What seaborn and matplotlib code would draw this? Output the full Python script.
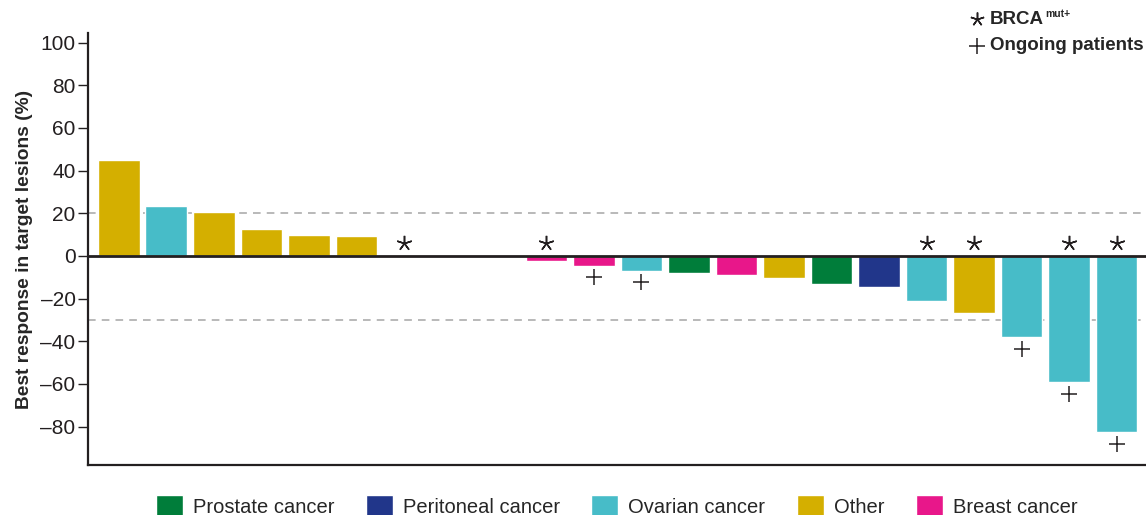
import numpy as np
import pandas as pd
import matplotlib.pyplot as plt
from matplotlib.patches import Patch
import seaborn as sns

# best response per patient, sorted as in the waterfall
response = [45, 23.5, 20.7, 12.7, 9.9, 9.4, 0, 0, 0, -2.2, -4.5, -6.9, -7.8, -8.8,
            -10.2, -13, -14.4, -21, -26.6, -37.9, -59, -82.5]
cancer = ["Other", "Ovarian cancer", "Other", "Other", "Other", "Other",
          "Other", "Other", "Other", "Breast cancer", "Breast cancer", "Ovarian cancer",
          "Prostate cancer", "Breast cancer", "Other", "Prostate cancer", "Peritoneal cancer",
          "Ovarian cancer", "Other", "Ovarian cancer", "Ovarian cancer", "Ovarian cancer"]
brca_idx = [6, 9, 17, 18, 20, 21]
ongoing_idx = [10, 11, 19, 20, 21]

legend_order = ["Prostate cancer", "Peritoneal cancer", "Ovarian cancer", "Other", "Breast cancer"]
palette = {"Prostate cancer": "#007D3A", "Peritoneal cancer": "#21368A",
           "Ovarian cancer": "#47BCC8", "Other": "#D4AF00", "Breast cancer": "#E8178A"}

df = pd.DataFrame({"patient": np.arange(len(response)), "response": response, "cancer": cancer})

sns.set_style("white")
plt.rcParams['font.family'] = ['Liberation Sans', 'DejaVu Sans']

fig = plt.figure(figsize=(11.46, 5.15), dpi=100)
ax = fig.add_axes([0.0768, 0.097, 0.9232, 0.839])

sns.barplot(data=df, x="patient", y="response", hue="cancer", palette=palette,
            dodge=False, width=0.88, saturation=1, legend=False, ax=ax)

ax.axhline(0, color="#231f20", lw=2, zorder=3)
for ref in (20, -30):
    ax.axhline(ref, color="#a6a6a6", lw=1.1, ls=(0, (5, 4)), zorder=0)

# markers
ax.plot(brca_idx, [6] * len(brca_idx), ls="none", marker=(5, 2, 0), ms=11,
        mew=1.1, color="#231f20", zorder=4)
ong_y = [df.response[i] - 5.5 for i in ongoing_idx]
ax.plot(ongoing_idx, ong_y, ls="none", marker="+", ms=11, mew=1.1,
        color="#231f20", zorder=4)

ax.set_xlim(-0.65, 21.62)
ax.set_ylim(-98, 104.5)
ax.set_yticks(np.arange(-80, 101, 20))
ax.set_yticklabels([f"{v}".replace("-", "\u2013") for v in range(-80, 101, 20)])
ax.set_xticks([])
ax.set_xlabel("")
ax.set_ylabel("Best response in target lesions (%)", fontsize=13.8, fontweight="bold", labelpad=5)
ax.tick_params(axis="y", left=True, length=7, width=1, color="#231f20",
               labelsize=15, labelcolor="#231f20", pad=2)
for s in ("top", "right"):
    ax.spines[s].set_visible(False)
for s in ("left", "bottom"):
    ax.spines[s].set_color("#231f20")
    ax.spines[s].set_linewidth(1.6)

# key in the top right
fig.lines.append(plt.Line2D([977 / 1146], [1 - 19 / 515], transform=fig.transFigure,
                            marker=(5, 2, 0), ms=10, mew=1.1, color="#231f20", ls="none"))
fig.lines.append(plt.Line2D([977 / 1146], [1 - 46 / 515], transform=fig.transFigure,
                            marker="+", ms=11, mew=1.1, color="#231f20", ls="none"))
brca = fig.text(990 / 1146, 1 - 19 / 515, "BRCA", fontsize=13.5, fontweight="bold", va="center")
fig.text(990 / 1146, 1 - 46 / 515, "Ongoing patients", fontsize=13.5, fontweight="bold", va="center")
fig.canvas.draw()
bb = brca.get_window_extent()
fig.text((bb.x1 + 1) / 1146, 1 - 14 / 515, "mut+", fontsize=7.5, fontweight="bold", va="center")

handles = [Patch(facecolor=palette[c], label=c) for c in legend_order]
fig.legend(handles=handles, loc="center", bbox_to_anchor=(0.538, 1 - 506 / 515), ncol=5,
           frameon=False, fontsize=14.5, handlelength=1.35, handleheight=1.25,
           handletextpad=0.5, columnspacing=1.55, borderaxespad=0)

fig.savefig("out.png", dpi=100)
